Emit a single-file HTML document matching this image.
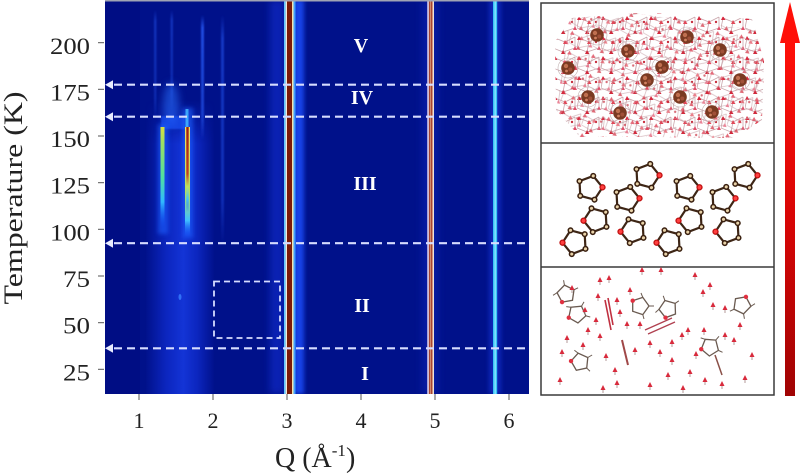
<!DOCTYPE html>
<html><head><meta charset="utf-8">
<style>
html,body{margin:0;padding:0;background:#fff;}
svg{display:block;}
</style></head>
<body>
<svg width="800" height="476" viewBox="0 0 800 476" xmlns="http://www.w3.org/2000/svg">
<defs>
  <filter id="b2" x="-50%" y="-50%" width="200%" height="200%"><feGaussianBlur stdDeviation="2"/></filter>
  <filter id="b4" x="-50%" y="-50%" width="200%" height="200%"><feGaussianBlur stdDeviation="4"/></filter>
  <filter id="b1" x="-50%" y="-50%" width="200%" height="200%"><feGaussianBlur stdDeviation="0.8"/></filter>
  <linearGradient id="band" x1="0" x2="1" y1="0" y2="0">
    <stop offset="0" stop-color="#1a3cff" stop-opacity="0"/>
    <stop offset="0.3" stop-color="#1a40ff" stop-opacity="0.45"/>
    <stop offset="0.55" stop-color="#1e48ff" stop-opacity="0.65"/>
    <stop offset="0.75" stop-color="#1a40ff" stop-opacity="0.45"/>
    <stop offset="1" stop-color="#1a3cff" stop-opacity="0"/>
  </linearGradient>
  <linearGradient id="bandV" x1="0" x2="0" y1="0" y2="1">
    <stop offset="0" stop-color="#fff" stop-opacity="0"/>
    <stop offset="0.15" stop-color="#fff" stop-opacity="1"/>
    <stop offset="1" stop-color="#fff" stop-opacity="1"/>
  </linearGradient>
  <mask id="bandMask"><rect x="130" y="100" width="100" height="295" fill="url(#bandV)"/></mask>
  <linearGradient id="l1" x1="0" x2="0" y1="0" y2="1">
    <stop offset="0" stop-color="#d8e040"/>
    <stop offset="0.15" stop-color="#a0e060"/>
    <stop offset="0.5" stop-color="#50e0a0"/>
    <stop offset="0.75" stop-color="#30b8ff"/>
    <stop offset="1" stop-color="#1050ff" stop-opacity="0"/>
  </linearGradient>
  <linearGradient id="l2" x1="0" x2="0" y1="0" y2="1">
    <stop offset="0" stop-color="#a02010"/>
    <stop offset="0.55" stop-color="#c04020"/>
    <stop offset="0.7" stop-color="#c0e060"/>
    <stop offset="0.85" stop-color="#40c0ff"/>
    <stop offset="1" stop-color="#1050ff" stop-opacity="0"/>
  </linearGradient>
  <linearGradient id="l2e" x1="0" x2="0" y1="0" y2="1">
    <stop offset="0" stop-color="#f0e060"/>
    <stop offset="0.6" stop-color="#b0e060"/>
    <stop offset="0.85" stop-color="#40c0ff"/>
    <stop offset="1" stop-color="#1050ff" stop-opacity="0"/>
  </linearGradient>
  <linearGradient id="faint" x1="0" x2="0" y1="0" y2="1">
    <stop offset="0" stop-color="#2a60ff" stop-opacity="0"/>
    <stop offset="0.1" stop-color="#2a60ff" stop-opacity="0.8"/>
    <stop offset="0.8" stop-color="#2a60ff" stop-opacity="0.6"/>
    <stop offset="1" stop-color="#2a60ff" stop-opacity="0"/>
  </linearGradient>
  <linearGradient id="arrowG" x1="0" x2="0" y1="0" y2="1">
    <stop offset="0" stop-color="#ff1008"/>
    <stop offset="0.5" stop-color="#d80606"/>
    <stop offset="1" stop-color="#a00404"/>
  </linearGradient>
  <pattern id="net" width="24" height="20" patternUnits="userSpaceOnUse" x="553" y="14">
    <path d="M2 4 L12 8 L22 3 M12 8 L10 18 L22 14 L22 3 M2 4 L0 14 L10 18" stroke="#c9a5ab" stroke-width="0.8" fill="none"/>
    <polygon points="2,2 4.5,6 0,6" fill="#d82a40"/>
    <polygon points="12,6 14.5,10 10,10" fill="#e04858"/>
    <polygon points="10,16 12.5,20 8,20" fill="#d02a3c"/>
    <polygon points="22,12 24,16 20,16" fill="#e0506a"/>
    <circle cx="19" cy="8" r="1.2" fill="#c83040"/>
  </pattern>
  <g id="ring">
    <polygon points="0,-12.5 11.9,-3.9 7.35,10.1 -7.35,10.1 -11.9,-3.9" fill="none" stroke="#3e2616" stroke-width="2.2"/>
    <circle cx="0" cy="-12.5" r="2.3" fill="#e8d2a8" stroke="#3a2010" stroke-width="1.5"/>
    <circle cx="11.9" cy="-3.9" r="2.5" fill="#ff4040" stroke="#c01010" stroke-width="1.3"/>
    <circle cx="7.35" cy="10.1" r="2.3" fill="#e8d2a8" stroke="#3a2010" stroke-width="1.5"/>
    <circle cx="-7.35" cy="10.1" r="2.3" fill="#e8d2a8" stroke="#3a2010" stroke-width="1.5"/>
    <circle cx="-11.9" cy="-3.9" r="2.3" fill="#e8d2a8" stroke="#3a2010" stroke-width="1.5"/>
  </g>
  <g id="gring">
    <polygon points="0,-9 8.6,-2.8 5.3,7.3 -5.3,7.3 -8.6,-2.8" fill="none" stroke="#6a5a50" stroke-width="1.3"/>
    <line x1="0" y1="-9" x2="0" y2="-14" stroke="#6a5a50" stroke-width="1"/>
    <line x1="8.6" y1="-2.8" x2="13" y2="-4" stroke="#6a5a50" stroke-width="1"/>
    <line x1="-8.6" y1="-2.8" x2="-13" y2="-1" stroke="#6a5a50" stroke-width="1"/>
    <circle cx="-5.3" cy="7.3" r="2.2" fill="#e03040"/>
  </g>
  <g id="cl">
    <circle r="10" fill="none" stroke="#c0b0b0" stroke-width="0.6"/>
    <circle r="6.8" fill="#7a3a22"/>
    <circle cx="-2" cy="-2" r="2.2" fill="#c07050"/>
    <circle cx="2.3" cy="1.5" r="2" fill="#a05038"/>
    <circle cx="-1.5" cy="3" r="1.4" fill="#d08060"/>
  </g>
  <g id="rm">
    <polygon points="0,-3 2.5,2 -2.5,2" fill="#d82a3c"/>
    <line x1="0" y1="2" x2="0" y2="5" stroke="#a08080" stroke-width="0.8"/>
  </g>
  <clipPath id="plotclip"><rect x="105" y="0" width="424" height="394"/></clipPath>
  <clipPath id="netclip"><polygon points="555,42 572,18 640,13 700,15 752,19 764,60 762,120 735,138 650,137 580,137 556,110"/></clipPath>
</defs>

<!-- ===== Heatmap ===== -->
<g clip-path="url(#plotclip)">
  <rect x="105" y="0" width="424" height="394" fill="#00118a"/>
  <rect x="105" y="0" width="35" height="394" fill="#000c80" opacity="0.6"/>
  <!-- broad band -->
  <rect x="145" y="100" width="70" height="295" fill="url(#band)" mask="url(#bandMask)"/>
  <!-- glow around Q=3 -->
  <rect x="270" y="0" width="14" height="394" fill="#1535e0" opacity="0.5" filter="url(#b4)"/>
  <rect x="294" y="0" width="10" height="394" fill="#1e50ff" opacity="0.8" filter="url(#b2)"/>
  <rect x="422" y="0" width="16" height="394" fill="#1530d0" opacity="0.35" filter="url(#b4)"/>
  <rect x="489" y="0" width="12" height="394" fill="#1a40f0" opacity="0.45" filter="url(#b2)"/>
  <!-- faint lines upper -->
  <rect x="154" y="10" width="2.5" height="110" fill="url(#faint)" opacity="0.5" filter="url(#b1)"/>
  <rect x="170.5" y="10" width="2.5" height="100" fill="url(#faint)" opacity="0.5" filter="url(#b1)"/>
  <rect x="201" y="15" width="3" height="125" fill="url(#faint)" opacity="0.9" filter="url(#b1)"/>
  <rect x="221" y="15" width="3" height="230" fill="url(#faint)" opacity="0.6" filter="url(#b1)"/>
  <!-- region IV glow -->
  <ellipse cx="171" cy="105" rx="8" ry="22" fill="#2a70ff" opacity="0.55" filter="url(#b4)"/>
  <rect x="161" y="116" width="24" height="13" fill="#1a58ff" opacity="0.6" filter="url(#b1)"/>
  <!-- bright short lines -->
  <rect x="158" y="124" width="10" height="110" fill="#1a60ff" opacity="0.6" filter="url(#b2)"/>
  <rect x="183" y="108" width="10" height="130" fill="#1a60ff" opacity="0.6" filter="url(#b2)"/>
  <rect x="160.5" y="127" width="4" height="100" fill="url(#l1)"/>
  <rect x="185.5" y="109" width="3" height="20" fill="#40b0ff" opacity="0.9"/>
  <rect x="185" y="127" width="5" height="110" fill="url(#l2e)"/>
  <rect x="186.3" y="127" width="2.4" height="85" fill="url(#l2)"/>
  <ellipse cx="180" cy="297" rx="1.5" ry="3" fill="#3a80ff" opacity="0.8"/>
  <!-- Q=3 line -->
  <rect x="284" y="0" width="1.6" height="394" fill="#60c8ff"/>
  <rect x="285.6" y="0" width="1.4" height="394" fill="#f2ecd8"/>
  <rect x="287" y="0" width="5" height="394" fill="#7a1a08"/>
  <rect x="292" y="0" width="1.5" height="394" fill="#f0e6b0"/>
  <rect x="293.5" y="0" width="2" height="394" fill="#40a0ff"/>
  <!-- Q=5 line -->
  <rect x="427.3" y="0" width="1.6" height="394" fill="#eadcf0"/>
  <rect x="428.9" y="0" width="3.6" height="394" fill="#a84630"/>
  <rect x="430" y="0" width="0.8" height="394" fill="#d89880"/>
  <rect x="432.5" y="0" width="1.5" height="394" fill="#f2e2d4"/>
  <!-- Q=5.85 line -->
  <rect x="493" y="0" width="4.2" height="394" fill="#38c4f6"/>
  <rect x="494.5" y="0" width="1.3" height="394" fill="#8ce6ff"/>
  <!-- top edge -->
  <rect x="105" y="0" width="424" height="1.5" fill="#a0a4b4"/>
  <!-- dashed horizontal lines -->
  <g stroke="#d6dcff" stroke-width="2.2" stroke-dasharray="8 5" fill="none">
    <line x1="114" y1="84.7" x2="529" y2="84.7"/>
    <line x1="114" y1="116.7" x2="529" y2="116.7"/>
    <line x1="114" y1="243.2" x2="529" y2="243.2"/>
    <line x1="114" y1="348.3" x2="529" y2="348.3"/>
  </g>
  <g fill="#e8ecff">
    <polygon points="105,84.7 113,80.2 113,89.2"/>
    <polygon points="105,116.7 113,112.2 113,121.2"/>
    <polygon points="105,243.2 113,238.7 113,247.7"/>
    <polygon points="105,348.3 113,343.8 113,352.8"/>
  </g>
  <!-- dashed rectangle -->
  <rect x="214" y="281.5" width="66" height="56.5" fill="none" stroke="#d6dcff" stroke-width="1.8" stroke-dasharray="6 4"/>
  <!-- Roman numerals -->
  <g font-family="Liberation Serif, serif" font-weight="bold" font-size="20" fill="#ffffff" text-anchor="middle">
    <text x="361" y="52">V</text>
    <text x="362" y="104">IV</text>
    <text x="365" y="190">III</text>
    <text x="362" y="312">II</text>
    <text x="365" y="380">I</text>
  </g>
</g>

<!-- ticks -->
<g stroke="#555" stroke-width="1">
  <line x1="139" y1="394" x2="139" y2="400"/>
  <line x1="213" y1="394" x2="213" y2="400"/>
  <line x1="287" y1="394" x2="287" y2="400"/>
  <line x1="361" y1="394" x2="361" y2="400"/>
  <line x1="435" y1="394" x2="435" y2="400"/>
  <line x1="509" y1="394" x2="509" y2="400"/>
  <line x1="98" y1="42.7" x2="104" y2="42.7"/>
  <line x1="98" y1="89.3" x2="104" y2="89.3"/>
  <line x1="98" y1="136" x2="104" y2="136"/>
  <line x1="98" y1="182.7" x2="104" y2="182.7"/>
  <line x1="98" y1="229.3" x2="104" y2="229.3"/>
  <line x1="98" y1="276" x2="104" y2="276"/>
  <line x1="98" y1="322.7" x2="104" y2="322.7"/>
  <line x1="98" y1="369.3" x2="104" y2="369.3"/>
</g>
<g font-family="Liberation Serif, serif" font-size="23" fill="#222" text-anchor="end">
  <text x="90" y="54" textLength="40" lengthAdjust="spacingAndGlyphs">200</text>
  <text x="90" y="100.5" textLength="40" lengthAdjust="spacingAndGlyphs">175</text>
  <text x="90" y="147" textLength="40" lengthAdjust="spacingAndGlyphs">150</text>
  <text x="90" y="193.7" textLength="40" lengthAdjust="spacingAndGlyphs">125</text>
  <text x="90" y="240.3" textLength="40" lengthAdjust="spacingAndGlyphs">100</text>
  <text x="90" y="287" textLength="27" lengthAdjust="spacingAndGlyphs">75</text>
  <text x="90" y="333.7" textLength="27" lengthAdjust="spacingAndGlyphs">50</text>
  <text x="90" y="380.3" textLength="27" lengthAdjust="spacingAndGlyphs">25</text>
</g>
<g font-family="Liberation Serif, serif" font-size="22" fill="#222" text-anchor="middle">
  <text x="139" y="428">1</text>
  <text x="213" y="428">2</text>
  <text x="287" y="428">3</text>
  <text x="361" y="428">4</text>
  <text x="435" y="428">5</text>
  <text x="509" y="428">6</text>
</g>
<text x="275" y="467" font-family="Liberation Serif, serif" font-size="28" fill="#222">Q (Å<tspan font-size="17" dy="-11">-1</tspan><tspan dy="11">)</tspan></text>
<text transform="translate(22,198) rotate(-90)" x="0" y="0" text-anchor="middle" font-family="Liberation Serif, serif" font-size="26" fill="#222" textLength="213" lengthAdjust="spacingAndGlyphs">Temperature (K)</text>

<!-- ===== Right panels ===== -->
<rect x="541" y="3" width="233" height="392" fill="#ffffff" stroke="#3a3a3a" stroke-width="1.5"/>
<line x1="541" y1="143" x2="774" y2="143" stroke="#3a3a3a" stroke-width="1.5"/>
<line x1="541" y1="267" x2="774" y2="267" stroke="#3a3a3a" stroke-width="1.5"/>

<!-- top panel network -->
<g clip-path="url(#netclip)">
  <rect x="550" y="10" width="220" height="132" fill="url(#net)"/>
  <rect x="550" y="10" width="220" height="132" fill="url(#net)" transform="translate(11 9) rotate(8 660 75)" opacity="0.7"/>
</g>
<g>
  <use href="#cl" x="597" y="35"/>
  <use href="#cl" x="628" y="51"/>
  <use href="#cl" x="568" y="68"/>
  <use href="#cl" x="662" y="67"/>
  <use href="#cl" x="687" y="37"/>
  <use href="#cl" x="720" y="50"/>
  <use href="#cl" x="647" y="80"/>
  <use href="#cl" x="588" y="97"/>
  <use href="#cl" x="680" y="97"/>
  <use href="#cl" x="740" y="80"/>
  <use href="#cl" x="620" y="113"/>
  <use href="#cl" x="712" y="112"/>
</g>

<!-- middle panel rings -->
<g>
  <use href="#ring" transform="translate(590,188) rotate(15)"/>
  <use href="#ring" transform="translate(647,176) rotate(15)"/>
  <use href="#ring" transform="translate(627,199) rotate(15)"/>
  <use href="#ring" transform="translate(687,188) rotate(15)"/>
  <use href="#ring" transform="translate(745,176) rotate(15)"/>
  <use href="#ring" transform="translate(723,199) rotate(15)"/>
  <use href="#ring" transform="translate(596,220) rotate(195)"/>
  <use href="#ring" transform="translate(575,242) rotate(195)"/>
  <use href="#ring" transform="translate(633,231) rotate(195)"/>
  <use href="#ring" transform="translate(691,220) rotate(195)"/>
  <use href="#ring" transform="translate(669,242) rotate(195)"/>
  <use href="#ring" transform="translate(728,231) rotate(195)"/>
</g>

<!-- bottom panel -->
<g>
  <use href="#gring" transform="translate(566,294) rotate(-10)"/>
  <use href="#gring" transform="translate(577,314) rotate(30)"/>
  <use href="#gring" transform="translate(580,362) rotate(60)"/>
  <use href="#gring" transform="translate(640,306) rotate(90)"/>
  <use href="#gring" transform="translate(668,309) rotate(-20)"/>
  <use href="#gring" transform="translate(710,347) rotate(40)"/>
  <use href="#gring" transform="translate(742,305) rotate(170)"/>
  <path d="M605 300 L611 330 M608 298 L613 325" stroke="#c03040" stroke-width="1.6"/>
  <path d="M645 330 L672 318 M648 334 L675 322" stroke="#b04050" stroke-width="1.3"/>
  <path d="M622 340 L628 365" stroke="#a04848" stroke-width="2"/>
  <path d="M715 355 L722 375" stroke="#8a5048" stroke-width="1.5"/>
  <use href="#rm" x="600" y="280"/><use href="#rm" x="609" y="278"/><use href="#rm" x="642" y="270"/>
  <use href="#rm" x="661" y="270"/><use href="#rm" x="695" y="275"/><use href="#rm" x="710" y="285"/>
  <use href="#rm" x="598" y="296"/><use href="#rm" x="585" y="310"/><use href="#rm" x="596" y="320"/>
  <use href="#rm" x="588" y="330"/><use href="#rm" x="567" y="338"/><use href="#rm" x="562" y="352"/>
  <use href="#rm" x="600" y="336"/><use href="#rm" x="617" y="300"/><use href="#rm" x="627" y="324"/>
  <use href="#rm" x="640" y="324"/><use href="#rm" x="650" y="343"/><use href="#rm" x="660" y="352"/>
  <use href="#rm" x="672" y="360"/><use href="#rm" x="682" y="335"/><use href="#rm" x="688" y="330"/>
  <use href="#rm" x="672" y="342"/><use href="#rm" x="696" y="354"/><use href="#rm" x="704" y="330"/>
  <use href="#rm" x="703" y="292"/><use href="#rm" x="713" y="305"/><use href="#rm" x="725" y="308"/>
  <use href="#rm" x="725" y="335"/><use href="#rm" x="734" y="340"/><use href="#rm" x="705" y="380"/>
  <use href="#rm" x="722" y="384"/><use href="#rm" x="683" y="388"/><use href="#rm" x="650" y="385"/>
  <use href="#rm" x="617" y="383"/><use href="#rm" x="603" y="388"/><use href="#rm" x="560" y="380"/>
  <use href="#rm" x="606" y="356"/><use href="#rm" x="635" y="350"/><use href="#rm" x="615" y="370"/>
  <use href="#rm" x="668" y="375"/><use href="#rm" x="690" y="372"/><use href="#rm" x="745" y="378"/>
  <use href="#rm" x="752" y="355"/><use href="#rm" x="740" y="325"/><use href="#rm" x="630" y="290"/>
  <use href="#rm" x="620" y="312"/><use href="#rm" x="572" y="288"/><use href="#rm" x="583" y="345"/>
</g>

<!-- arrow -->
<rect x="785" y="40" width="10" height="356" fill="url(#arrowG)"/>
<polygon points="790,2 800,43 780,43" fill="#ff1008"/>
</svg>
</body></html>
